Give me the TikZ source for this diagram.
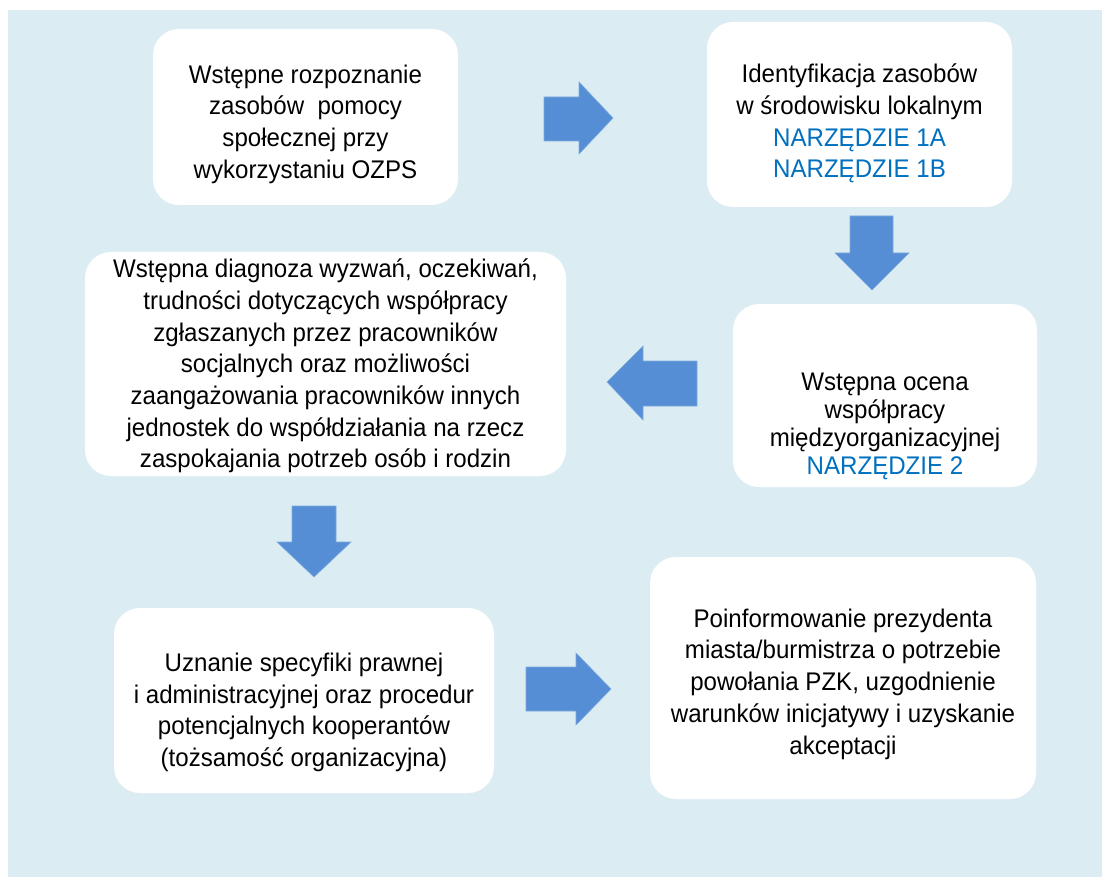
\documentclass[tikz,border=0pt]{standalone}
\usepackage{fontspec}
\setmainfont{Liberation Sans}[FakeStretch=0.945]
\usetikzlibrary{calc}
\definecolor{panel}{HTML}{DBEDF3}
\definecolor{arrowblue}{HTML}{558ED5}
\definecolor{arrowedge}{HTML}{7DA9E0}
\definecolor{toolblue}{HTML}{0070C0}
\tikzset{
  box/.style={fill=white, rounded corners=26pt, inner sep=0pt},
  txt/.style={align=center, inner sep=0pt, font=\fontsize{25.5}{31.7}\selectfont},
  tool/.style={text=toolblue},
  blockarrow/.style={fill=arrowblue, draw=arrowedge, line width=0.6pt},
}
\begin{document}
\begin{tikzpicture}[x=1pt, y=-1pt]
\useasboundingbox (0,0) rectangle (1102,877);
\fill[white] (0,0) rectangle (1102,877);
\fill[panel] (8,10) rectangle (1102,877);

% process steps
\node[box, minimum width=305pt, minimum height=176pt] (A) at (305.5,117) {};
\node[box, minimum width=305pt, minimum height=185pt] (B) at (859.5,114.5) {};
\node[box, minimum width=481pt, minimum height=224pt] (C) at (325.5,364) {};
\node[box, minimum width=304pt, minimum height=183pt] (D) at (885,395.5) {};
\node[box, minimum width=380pt, minimum height=185pt] (E) at (304,700.5) {};
\node[box, minimum width=386pt, minimum height=242pt] (F) at (843,678) {};

\node[txt] (tA) at ($(A.center)+(0,7)$) {Wstępne rozpoznanie\\zasobów\ \ pomocy\\społecznej przy\\wykorzystaniu OZPS};
\node[txt] (tB) at ($(B.center)+(0,9)$) {Identyfikacja zasobów\\w środowisku lokalnym\\{\color{toolblue}NARZĘDZIE 1A}\\{\color{toolblue}NARZĘDZIE 1B}};
\node[txt] (tC) at ($(C.center)+(0,2)$) {Wstępna diagnoza wyzwań, oczekiwań,\\trudności dotyczących współpracy\\zgłaszanych przez pracowników\\socjalnych oraz możliwości\\zaangażowania pracowników innych\\jednostek do współdziałania na rzecz\\zaspokajania potrzeb osób i rodzin};
\node[txt, font=\fontsize{25.5}{28}\selectfont] (tD) at ($(D.center)+(0,31)$) {Wstępna ocena\\współpracy\\międzyorganizacyjnej\\{\color{toolblue}NARZĘDZIE 2}};
\node[txt] (tE) at ($(E.center)+(0,12)$) {Uznanie specyfiki prawnej\\i administracyjnej oraz procedur\\potencjalnych kooperantów\\(tożsamość organizacyjna)};
\node[txt] (tF) at ($(F.center)+(0,6)$) {Poinformowanie prezydenta\\miasta/burmistrza o potrzebie\\powołania PZK, uzgodnienie\\warunków inicjatywy i uzyskanie\\akceptacji};

% block arrows between the steps
\draw[blockarrow] (544,97) -- (579,97) -- (579,82) -- (613,118) -- (579,154) -- (579,141) -- (544,141) -- cycle;
\draw[blockarrow] (850,216) -- (893,216) -- (893,253) -- (909,253) -- (872,290) -- (835,253) -- (850,253) -- cycle;
\draw[blockarrow] (697,361) -- (643,361) -- (643,346) -- (607,382) -- (643,420) -- (643,406) -- (697,406) -- cycle;
\draw[blockarrow] (292,506) -- (336,506) -- (336,542) -- (351,542) -- (314,577) -- (277,542) -- (292,542) -- cycle;
\draw[blockarrow] (526,667) -- (576,667) -- (576,653) -- (611,689) -- (576,725) -- (576,711) -- (526,711) -- cycle;
\end{tikzpicture}
\end{document}
